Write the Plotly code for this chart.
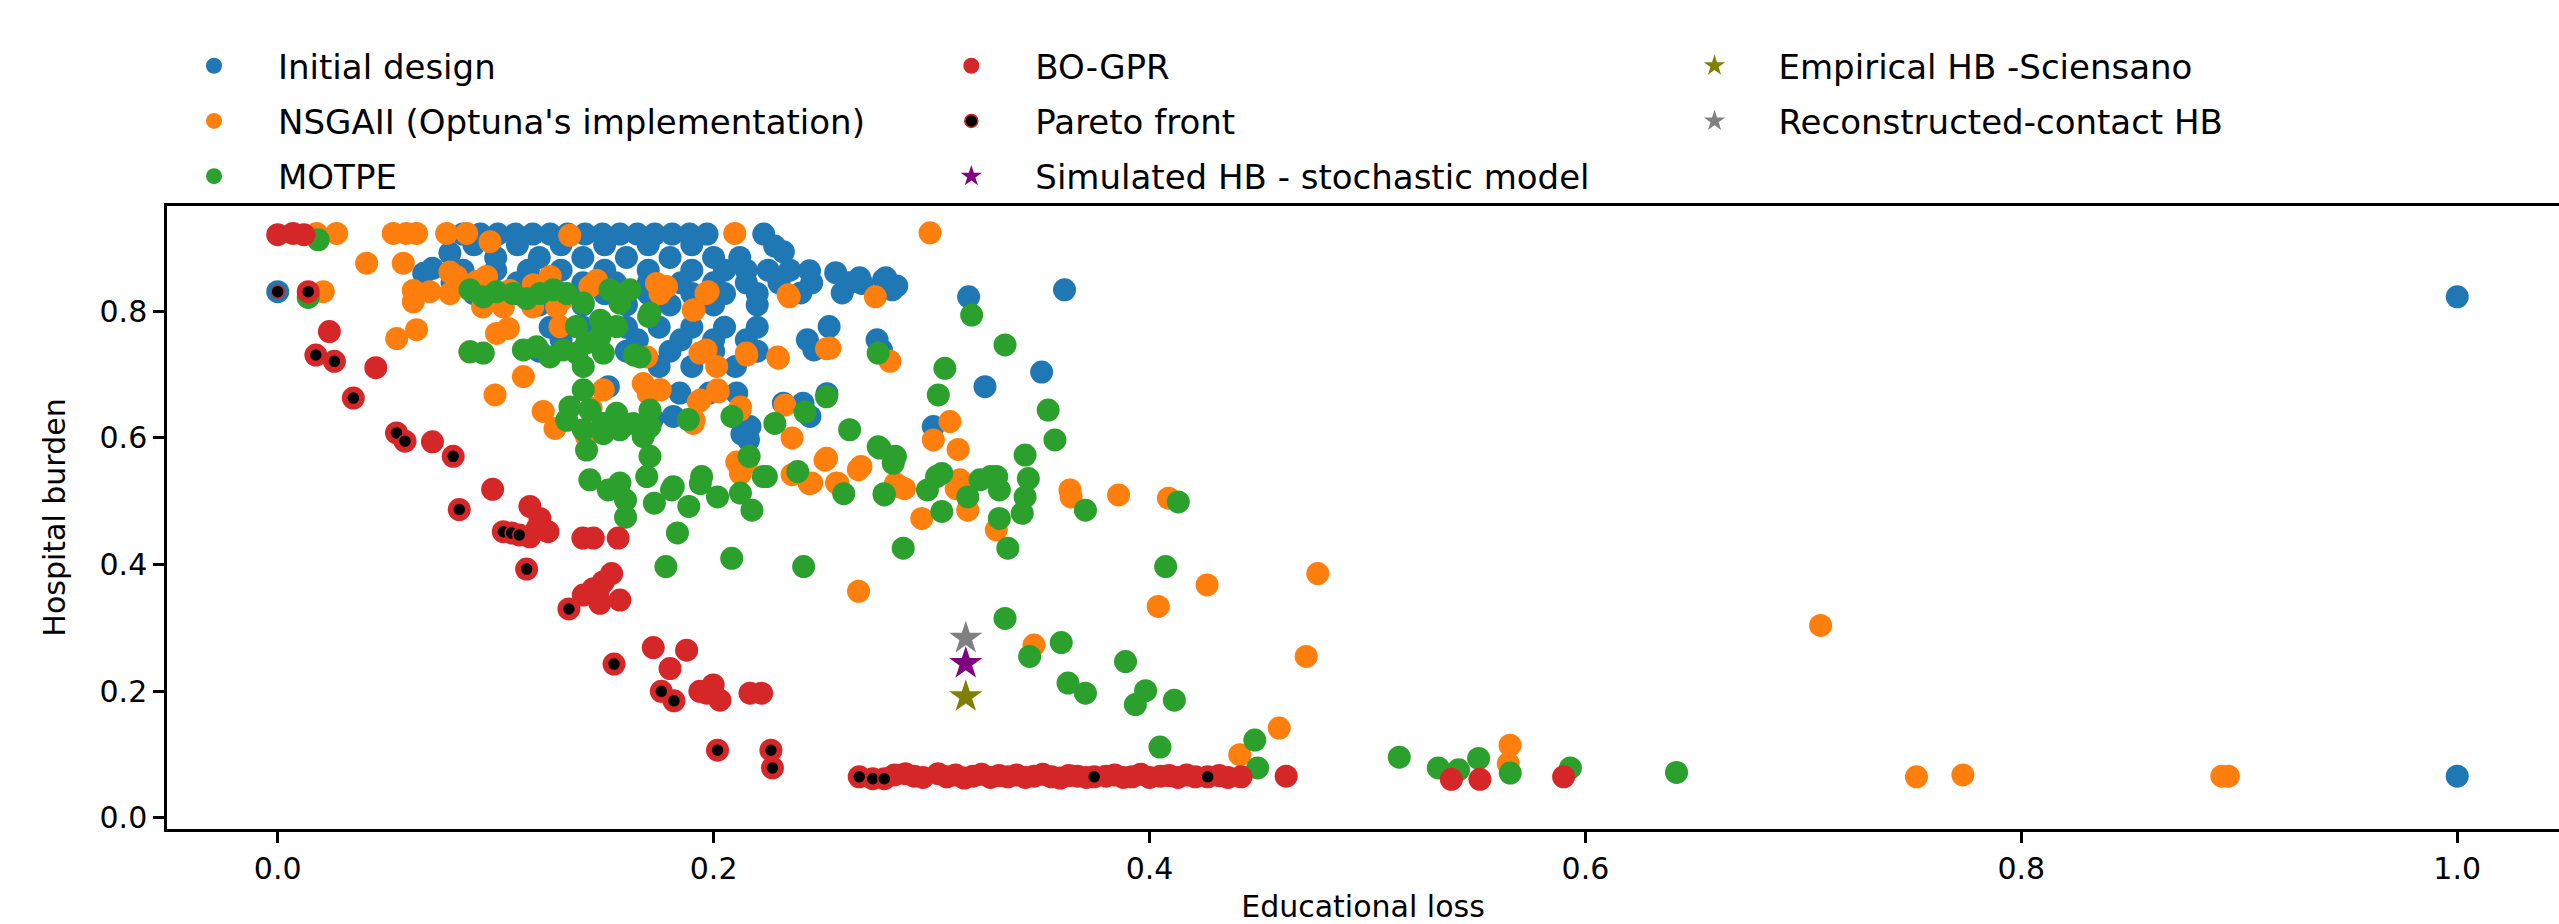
import plotly.graph_objects as go

# ---------------- data ----------------
init_x = [0.085, 0.093, 0.101, 0.109, 0.117, 0.125, 0.133, 0.141, 0.149, 0.157, 0.165, 0.173, 0.181, 0.189, 0.197, 0.223,
          0.090, 0.110, 0.130, 0.150, 0.170, 0.190, 0.228, 0.232, 0.079,
          0.100, 0.120, 0.140, 0.160, 0.180, 0.200, 0.212,
          0.067, 0.071, 0.085, 0.100, 0.115, 0.130, 0.150, 0.170, 0.190, 0.205, 0.215, 0.225, 0.235, 0.244, 0.256,
          0.267, 0.279,
          0.080, 0.095, 0.110, 0.125, 0.140, 0.155, 0.170, 0.185, 0.200, 0.215, 0.230, 0.245, 0.262, 0.284, 0.268, 0.278,
          0.090, 0.110, 0.130, 0.150, 0.170, 0.190, 0.205, 0.220, 0.240, 0.259, 0.282,
          0.120, 0.140, 0.160, 0.180, 0.200, 0.220,
          0.000, 0.317, 0.361, 1.000, 1.000,
          0.125, 0.140, 0.160, 0.175, 0.190, 0.205, 0.220, 0.253,
          0.130, 0.145, 0.165, 0.185, 0.200, 0.215, 0.243, 0.275,
          0.120, 0.160, 0.180, 0.200, 0.220, 0.246, 0.277,
          0.175, 0.190, 0.210,
          0.3505, 0.1517, 0.3245,
          0.1845, 0.198, 0.2106, 0.252,
          0.232, 0.241,
          0.1815, 0.2442, 0.172,
          0.2167, 0.3008,
          0.216, 0.213]
init_y = [0.922, 0.922, 0.922, 0.922, 0.922, 0.922, 0.922, 0.922, 0.922, 0.922, 0.922, 0.922, 0.922, 0.922, 0.922, 0.922,
          0.905, 0.905, 0.905, 0.905, 0.905, 0.905, 0.903, 0.894, 0.892,
          0.885, 0.885, 0.885, 0.885, 0.885, 0.885, 0.885,
          0.860, 0.868, 0.865, 0.865, 0.865, 0.865, 0.865, 0.865, 0.865, 0.865, 0.865, 0.865, 0.865, 0.864, 0.861,
          0.853, 0.853,
          0.845, 0.845, 0.845, 0.845, 0.845, 0.845, 0.845, 0.845, 0.845, 0.845, 0.845, 0.845, 0.845, 0.840, 0.844, 0.850,
          0.828, 0.828, 0.828, 0.828, 0.828, 0.828, 0.828, 0.828, 0.829, 0.829, 0.834,
          0.810, 0.810, 0.810, 0.810, 0.810, 0.810,
          0.831, 0.823, 0.834, 0.823, 0.066,
          0.775, 0.775, 0.775, 0.775, 0.775, 0.775, 0.775, 0.776,
          0.755, 0.755, 0.755, 0.755, 0.755, 0.755, 0.755, 0.755,
          0.737, 0.737, 0.737, 0.737, 0.737, 0.739, 0.739,
          0.713, 0.713, 0.713,
          0.704, 0.681, 0.681,
          0.671, 0.671, 0.671, 0.670,
          0.655, 0.655,
          0.634, 0.634, 0.630,
          0.618, 0.618,
          0.597, 0.606]

nsga_x = [0.0178, 0.027, 0.0209, 0.0408, 0.0576, 0.053, 0.059, 0.0637, 0.0775, 0.0867, 0.0974, 0.134,
          0.079, 0.082, 0.0622, 0.0698, 0.0622, 0.079, 0.0958, 0.0913, 0.1065, 0.1172, 0.125, 0.131,
          0.1432, 0.1463, 0.1754, 0.1738, 0.094, 0.1035, 0.117, 0.128, 0.0546, 0.0637, 0.1004, 0.1058,
          0.1295, 0.0882, 0.1127, 0.0997, 0.1218, 0.1272, 0.1693, 0.1494, 0.1677, 0.1417, 0.1438, 0.149,
          0.170, 0.1755, 0.191, 0.1939, 0.2018, 0.2123, 0.236, 0.1965, 0.215, 0.2294, 0.2518, 0.2742,
          0.2347, 0.2097, 0.1965, 0.191, 0.215, 0.2123, 0.2439, 0.2571, 0.2676, 0.2834, 0.236, 0.2518,
          0.2665, 0.2993, 0.1784, 0.1975, 0.1906, 0.2342, 0.1937, 0.2014, 0.2152, 0.2297, 0.2534, 0.2809,
          0.1754, 0.193, 0.2021, 0.2121, 0.2327, 0.1906, 0.2106, 0.2511, 0.2664, 0.245, 0.2564, 0.313,
          0.3635, 0.3008, 0.3084, 0.3122, 0.2855, 0.2876, 0.3113, 0.2955, 0.3166, 0.3297, 0.364, 0.3858,
          0.4087, 0.404, 0.4264, 0.4772, 0.347, 0.4719, 0.4595, 0.4414, 0.5654, 0.5646, 0.7079, 0.7519,
          0.7732, 0.892, 0.895]
nsga_y = [0.923, 0.923, 0.831, 0.876, 0.876, 0.923, 0.923, 0.923, 0.923, 0.923, 0.910, 0.920,
          0.862, 0.855, 0.833, 0.831, 0.815, 0.828, 0.855, 0.847, 0.833, 0.842, 0.855, 0.820,
          0.839, 0.849, 0.828, 0.844, 0.807, 0.807, 0.807, 0.807, 0.757, 0.771, 0.765, 0.773,
          0.776, 0.736, 0.697, 0.668, 0.642, 0.615, 0.728, 0.676, 0.686, 0.602, 0.647, 0.620,
          0.670, 0.676, 0.628, 0.660, 0.676, 0.649, 0.600, 0.739, 0.734, 0.728, 0.741, 0.823,
          0.823, 0.923, 0.828, 0.802, 0.560, 0.544, 0.528, 0.528, 0.555, 0.528, 0.542, 0.568,
          0.358, 0.924, 0.839, 0.831, 0.802, 0.826, 0.734, 0.713, 0.731, 0.726, 0.742, 0.721,
          0.676, 0.657, 0.673, 0.644, 0.652, 0.623, 0.562, 0.565, 0.550, 0.529, 0.529, 0.534,
          0.518, 0.597, 0.626, 0.582, 0.523, 0.520, 0.520, 0.473, 0.486, 0.455, 0.507, 0.510,
          0.505, 0.334, 0.368, 0.386, 0.273, 0.255, 0.142, 0.100, 0.115, 0.086, 0.304, 0.065,
          0.068, 0.066, 0.066]

motpe_x = [0.0186, 0.014, 0.0882, 0.0943, 0.1004, 0.1081, 0.1142, 0.1203, 0.1264, 0.1326, 0.1402, 0.1524,
           0.1616, 0.157, 0.1708, 0.0882, 0.0943, 0.1127, 0.1188, 0.1249, 0.131, 0.1372, 0.1417, 0.1478,
           0.1555, 0.1402, 0.1494, 0.1662, 0.137, 0.148, 0.1402, 0.1341, 0.1326, 0.1432, 0.1494, 0.1555,
           0.1631, 0.1708, 0.1677, 0.1402, 0.1494, 0.157, 0.1708, 0.1417, 0.1708, 0.1432, 0.157, 0.1693,
           0.1517, 0.1596, 0.1807, 0.1939, 0.2018, 0.2123, 0.2176, 0.1886, 0.1596, 0.1728, 0.1834, 0.1781,
           0.2083, 0.2413, 0.2242, 0.2386, 0.2597, 0.2782, 0.2163, 0.2281, 0.2084, 0.2624, 0.2755, 0.2834,
           0.2518, 0.2755, 0.1636, 0.287, 0.1702, 0.3184, 0.3337, 0.3061, 0.3031, 0.3535, 0.3566, 0.1884,
           0.2419, 0.2763, 0.2824, 0.3429, 0.1945, 0.1815, 0.2228, 0.3023, 0.3222, 0.3299, 0.3444, 0.3047,
           0.2981, 0.3271, 0.3311, 0.3429, 0.3166, 0.3047, 0.3311, 0.3416, 0.2783, 0.3706, 0.4132, 0.335,
           0.4074, 0.3337, 0.3595, 0.345, 0.389, 0.3626, 0.3706, 0.3982, 0.3935, 0.4114, 0.4048, 0.4483,
           0.4496, 0.5146, 0.5325, 0.5418, 0.551, 0.5655, 0.5931, 0.6418]
motpe_y = [0.913, 0.822, 0.834, 0.823, 0.831, 0.828, 0.820, 0.828, 0.834, 0.828, 0.813, 0.834,
           0.834, 0.813, 0.797, 0.736, 0.734, 0.739, 0.744, 0.728, 0.739, 0.734, 0.750, 0.760,
           0.776, 0.713, 0.734, 0.728, 0.776, 0.786, 0.676, 0.649, 0.628, 0.644, 0.623, 0.639,
           0.623, 0.644, 0.602, 0.613, 0.607, 0.613, 0.618, 0.581, 0.571, 0.534, 0.529, 0.539,
           0.518, 0.502, 0.518, 0.528, 0.507, 0.513, 0.486, 0.492, 0.475, 0.497, 0.450, 0.397,
           0.410, 0.397, 0.539, 0.547, 0.512, 0.512, 0.571, 0.623, 0.634, 0.613, 0.586, 0.571,
           0.665, 0.734, 0.731, 0.426, 0.792, 0.794, 0.747, 0.710, 0.668, 0.644, 0.597, 0.629,
           0.641, 0.584, 0.560, 0.573, 0.539, 0.523, 0.539, 0.539, 0.534, 0.539, 0.536, 0.544,
           0.518, 0.539, 0.518, 0.507, 0.507, 0.484, 0.473, 0.481, 0.510, 0.486, 0.499, 0.426,
           0.397, 0.315, 0.277, 0.255, 0.247, 0.213, 0.197, 0.201, 0.179, 0.186, 0.112, 0.123,
           0.079, 0.096, 0.079, 0.076, 0.094, 0.071, 0.079, 0.072]

bo_x = [0.000, 0.007, 0.012, 0.014, 0.0237, 0.0175, 0.026, 0.045, 0.0347, 0.0545, 0.0584, 0.071,
        0.0805, 0.0986, 0.0833, 0.1035, 0.1073, 0.1108, 0.1157, 0.1203, 0.124, 0.1157, 0.119, 0.140,
        0.1448, 0.1562, 0.1142, 0.1532, 0.1494, 0.1448, 0.1402, 0.1478, 0.157, 0.147, 0.1336, 0.1723,
        0.1543, 0.1876, 0.180, 0.176, 0.1818, 0.1937, 0.1998, 0.2029, 0.1968, 0.2167, 0.222, 0.2018,
        0.2263, 0.227, 0.2668, 0.273, 0.2783,
        0.283, 0.288, 0.292, 0.296, 0.303, 0.307, 0.311, 0.315, 0.319, 0.323, 0.327, 0.331, 0.335,
        0.339, 0.343, 0.347, 0.351, 0.355, 0.359, 0.363, 0.367, 0.371, 0.3746, 0.380, 0.384, 0.388,
        0.392, 0.396, 0.400, 0.405, 0.409, 0.413, 0.417, 0.421, 0.4267, 0.432, 0.436,
        0.442, 0.4627, 0.5385, 0.5516, 0.590]
bo_y = [0.921, 0.923, 0.921, 0.831, 0.768, 0.731, 0.721, 0.711, 0.663, 0.608, 0.595, 0.594,
        0.571, 0.519, 0.487, 0.452, 0.450, 0.447, 0.492, 0.473, 0.452, 0.444, 0.457, 0.442,
        0.442, 0.442, 0.393, 0.386, 0.373, 0.362, 0.352, 0.339, 0.344, 0.357, 0.330, 0.269,
        0.243, 0.265, 0.236, 0.200, 0.185, 0.200, 0.210, 0.186, 0.197, 0.197, 0.197, 0.107,
        0.107, 0.079, 0.065, 0.062, 0.062,
        0.068, 0.070, 0.066, 0.064, 0.070, 0.065, 0.068, 0.063, 0.066, 0.069, 0.064, 0.067, 0.065,
        0.068, 0.064, 0.066, 0.069, 0.065, 0.063, 0.067, 0.066, 0.064, 0.065, 0.066, 0.068, 0.064,
        0.065, 0.069, 0.064, 0.066, 0.067, 0.064, 0.068, 0.065, 0.065, 0.067, 0.064,
        0.065, 0.066, 0.061, 0.061, 0.065]

pareto_x = [0.000, 0.014, 0.0175, 0.026, 0.0347, 0.0545, 0.0584, 0.0805, 0.0833, 0.1035, 0.1073, 0.1108,
            0.1142, 0.1336, 0.1543, 0.176, 0.1818, 0.2018, 0.2263, 0.227, 0.2668, 0.273, 0.2783, 0.3746, 0.4267]
pareto_y = [0.831, 0.831, 0.731, 0.721, 0.663, 0.608, 0.595, 0.571, 0.487, 0.452, 0.450, 0.447,
            0.393, 0.330, 0.243, 0.200, 0.185, 0.107, 0.107, 0.079, 0.065, 0.062, 0.062, 0.065, 0.065]

sim_hb = (0.3157, 0.244)
emp_hb = (0.3157, 0.1915)
rec_hb = (0.3157, 0.2838)

# ---------------- figure ----------------
FONT = "DejaVu Sans"
fig = go.Figure()

def circ(x, y, name, color, legend):
    fig.add_trace(go.Scatter(x=x, y=y, mode="markers", name=name, legend=legend, legendgroup=name,
                             marker=dict(color=color, size=23, line=dict(width=0))))

circ(init_x, init_y, "Initial design", "#1f77b4", "legend")
circ(nsga_x, nsga_y, "NSGAII (Optuna's implementation)", "#ff7f0e", "legend")
circ(motpe_x, motpe_y, "MOTPE", "#2ca02c", "legend")
circ(bo_x, bo_y, "BO-GPR", "#d62728", "legend2")
fig.add_trace(go.Scatter(x=pareto_x, y=pareto_y, mode="markers", name="Pareto front", legend="legend2",
                         legendgroup="Pareto front",
                         marker=dict(color="black", size=13, line=dict(color="#d62728", width=1.5))))

def star(pt, name, color, legend):
    fig.add_trace(go.Scatter(x=[pt[0]], y=[pt[1]], mode="markers", name=name, legend=legend, legendgroup=name,
                             marker=dict(symbol="star", color=color, size=25, line=dict(width=0))))

star(sim_hb, "Simulated HB - stochastic model", "#800080", "legend2")
star(emp_hb, "Empirical HB -Sciensano", "#808000", "legend3")
star(rec_hb, "Reconstructed-contact HB", "#808080", "legend3")

leg_common = dict(orientation="v", xanchor="left", yanchor="top", y=1.271, bgcolor="rgba(0,0,0,0)",
                  font=dict(family=FONT, size=34, color="black"), tracegroupgap=8, itemwidth=118)

axis_common = dict(showline=True, linecolor="black", linewidth=2.5, ticks="outside", ticklen=11,
                   tickwidth=2.5, tickcolor="black", showgrid=False, zeroline=False, automargin=False,
                   tickfont=dict(family=FONT, size=30, color="black"))

fig.update_layout(
    width=2559, height=924,
    margin=dict(l=167, r=0, t=206, b=95),
    paper_bgcolor="white", plot_bgcolor="white",
    font=dict(family=FONT, size=30, color="black"),
    showlegend=True,
    legend=dict(x=-0.0071, **leg_common),
    legend2=dict(x=0.3095, **leg_common),
    legend3=dict(x=0.6202, **leg_common),
    xaxis=dict(range=[-0.0508, 1.0467], tickvals=[0, 0.2, 0.4, 0.6, 0.8, 1.0],
               ticktext=["0.0", "0.2", "0.4", "0.6", "0.8", "1.0"], mirror=True,
               title=dict(text="Educational loss", font=dict(family=FONT, size=30), standoff=38),
               **axis_common),
    yaxis=dict(range=[-0.0174, 0.9663], tickvals=[0, 0.2, 0.4, 0.6, 0.8],
               ticktext=["0.0", "0.2", "0.4", "0.6", "0.8"], mirror=False,
               title=dict(text="Hospital burden", font=dict(family=FONT, size=30), standoff=26),
               **axis_common),
)

fig.write_html("out.html")
